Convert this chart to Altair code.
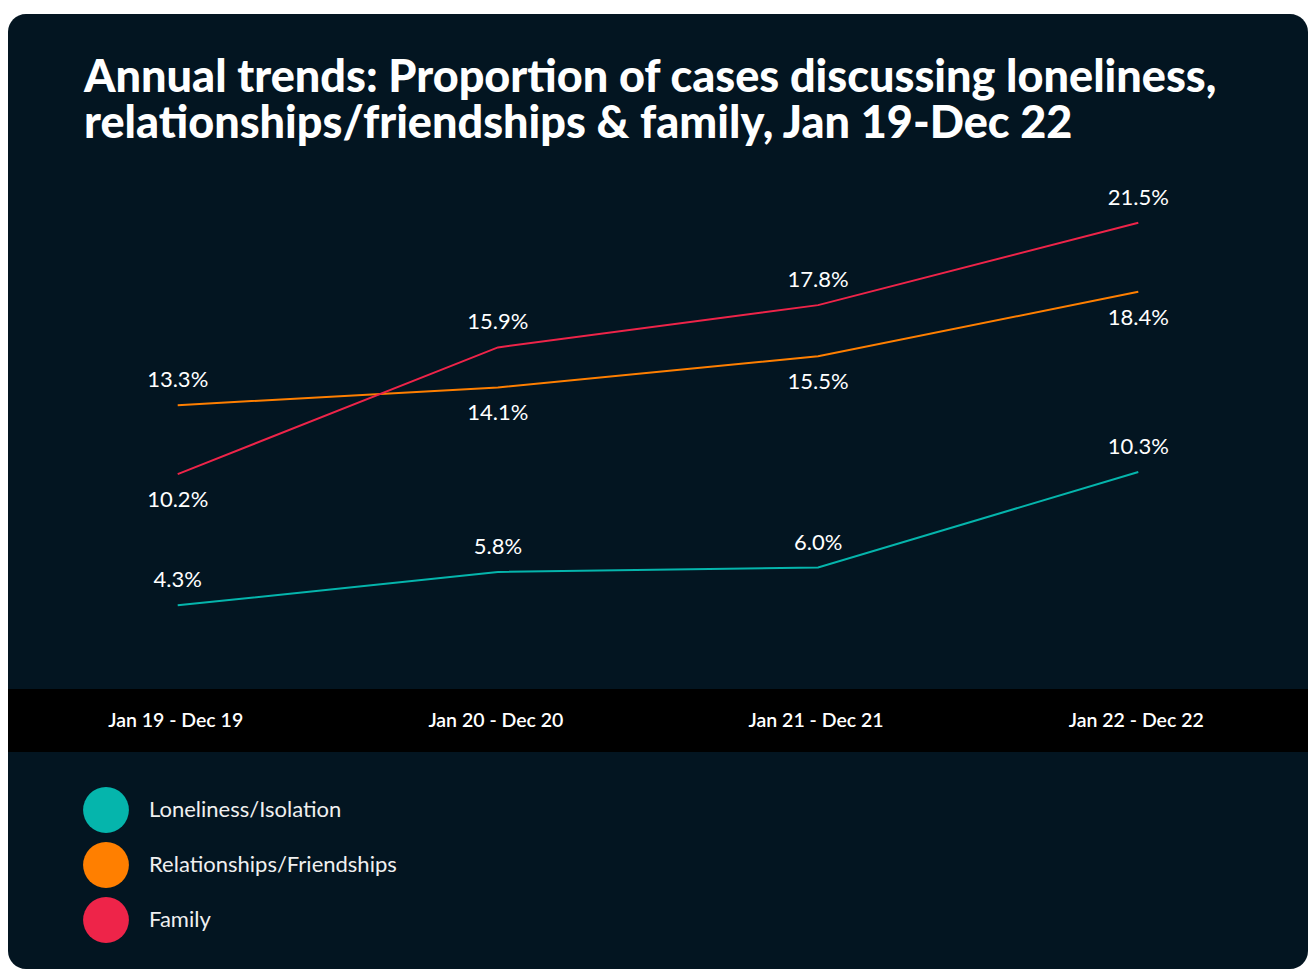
import altair as alt
import pandas as pd

# ---- data ----
periods = ["Jan 19 - Dec 19", "Jan 20 - Dec 20", "Jan 21 - Dec 21", "Jan 22 - Dec 22"]
series_names = ["Loneliness/Isolation", "Relationships/Friendships", "Family"]
loneliness = [4.3, 5.8, 6.0, 10.3]
relationships = [13.3, 14.1, 15.5, 18.4]
family = [10.2, 15.9, 17.8, 21.5]
loneliness_pos = ["above", "above", "above", "above"]
relationships_pos = ["above", "below", "below", "below"]
family_pos = ["below", "above", "above", "above"]
title_lines = [
    "Annual trends: Proportion of cases discussing loneliness,",
    "relationships/friendships & family, Jan 19-Dec 22",
]
colors = ["#05B5AC", "#FF7F00", "#EE2449"]

rows = []
for name, vals, pos in zip(series_names, [loneliness, relationships, family],
                           [loneliness_pos, relationships_pos, family_pos]):
    for p, v, ps in zip(periods, vals, pos):
        rows.append({"series": name, "period": p, "value": v, "pos": ps})
df = pd.DataFrame(rows)
legend_df = pd.DataFrame({"series": series_names, "idx": list(range(len(series_names)))})
period_df = pd.DataFrame({"period": periods})
title_df = pd.DataFrame({"line": title_lines, "idx": list(range(len(title_lines)))})

W, H = 1300, 955
BG = "#031521"
FONT = "Lato"

xscale = alt.Scale(domain=periods, padding=0.53)
yscale = alt.Scale(domain=[0, 25], range=[687, 131])
cscale = alt.Scale(domain=series_names, range=colors)

x_enc = alt.X("period:N", sort=periods, scale=xscale, axis=None)
y_enc = alt.Y("value:Q", scale=yscale, axis=None)

band = alt.Chart(period_df).mark_rect(color="#000000").encode(
    x=alt.value(0), x2=alt.value(W), y=alt.value(675), y2=alt.value(738)
).transform_filter("datum.period == '" + periods[0] + "'")

lines = alt.Chart(df).mark_line(strokeWidth=2).encode(
    x=x_enc, y=y_enc,
    color=alt.Color("series:N", scale=cscale, legend=None),
    detail="series:N",
)

base_lbl = alt.Chart(df).transform_calculate(
    label="format(datum.value, '.1f') + '%'"
)
labels_above = base_lbl.transform_filter("datum.pos == 'above'").mark_text(
    font=FONT, fontSize=22, color="#ffffff", dy=-25, baseline="middle", align="center"
).encode(x=x_enc, y=y_enc, text="label:N")
labels_below = base_lbl.transform_filter("datum.pos == 'below'").mark_text(
    font=FONT, fontSize=22, color="#ffffff", dy=26, baseline="middle", align="center"
).encode(x=x_enc, y=y_enc, text="label:N")

xlabels = alt.Chart(period_df).mark_text(
    font=FONT, fontSize=19.5, fontWeight=600, color="#ffffff", baseline="middle", align="center",
    dx=-2
).encode(x=x_enc, y=alt.value(707), text="period:N")

legend_y = alt.Y("idx:Q", scale=alt.Scale(domain=[0, 2], range=[796, 906]), axis=None)
legend_dots = alt.Chart(legend_df).mark_circle(size=2100, opacity=1).encode(
    x=alt.value(98), y=legend_y,
    color=alt.Color("series:N", scale=cscale, legend=None),
)
legend_text = alt.Chart(legend_df).mark_text(
    font=FONT, fontSize=22, color="#f0f0f0", align="left", baseline="middle"
).encode(x=alt.value(141), y=legend_y, text="series:N")

title = alt.Chart(title_df).mark_text(
    font=FONT, fontSize=45, fontWeight=900, color="#ffffff", align="left", baseline="alphabetic"
).encode(
    x=alt.value(76),
    y=alt.Y("idx:Q", scale=alt.Scale(domain=[0, 1], range=[78, 124]), axis=None),
    text="line:N",
)

chart = alt.layer(
    band, lines, labels_above, labels_below, xlabels, legend_dots, legend_text, title
).resolve_scale(y="independent").properties(
    width=W, height=H, background="#ffffff",
    padding={"left": 8, "top": 14, "right": 1, "bottom": 1},
    autosize=alt.AutoSizeParams(type="none"),
).configure_view(fill=BG, stroke=None, cornerRadius=18)

chart.save("out.html", embed_options={"renderer": "svg", "actions": False})
